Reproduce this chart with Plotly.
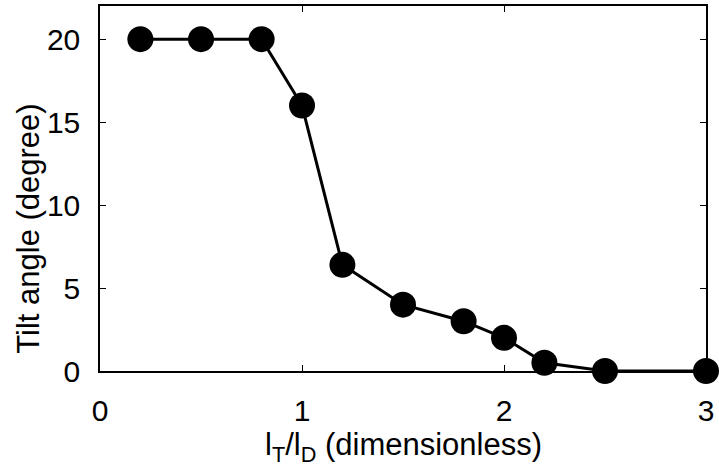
import plotly.graph_objects as go

ratio_x = [0.2, 0.5, 0.8, 1.0, 1.2, 1.5, 1.8, 2.0, 2.2, 2.5, 3.0]
tilt_angle = [20, 20, 20, 16, 6.4, 4, 3, 2, 0.5, 0, 0]

x_ticks = [0, 1, 2, 3]
y_ticks = [0, 5, 10, 15, 20]

x_title = "l<sub>T</sub>/l<sub>D</sub> (dimensionless)"
y_title = "Tilt angle (degree)"

font_family = "Liberation Sans, Arial, sans-serif"
tick_size = 30
title_size = 31

fig = go.Figure()
fig.add_trace(go.Scatter(
    x=ratio_x, y=tilt_angle, mode="lines+markers",
    line=dict(color="black", width=3),
    marker=dict(color="black", size=26),
    cliponaxis=False, showlegend=False,
))

axis_common = dict(
    showgrid=False, zeroline=False, showline=True, linecolor="black", linewidth=1.5,
    mirror="ticks", ticks="inside", ticklen=6, tickwidth=1, tickcolor="black",
    tickfont=dict(family=font_family, size=tick_size, color="black"),
)

fig.update_xaxes(
    range=[0, 3], tickvals=x_ticks, ticktext=[str(v) for v in x_ticks],
    ticklabelstandoff=12,
    **axis_common,
)
fig.update_yaxes(
    range=[0, 22], tickvals=y_ticks, ticktext=[str(v) for v in y_ticks],
    ticklabelstandoff=12,
    **axis_common,
)

fig.add_annotation(
    text=x_title, xref="paper", yref="paper", x=0.5, y=-0.208,
    xanchor="center", yanchor="middle", showarrow=False,
    font=dict(family=font_family, size=title_size, color="black"),
)
fig.add_annotation(
    text=y_title, xref="paper", yref="paper", x=-0.117, y=0.39,
    xanchor="center", yanchor="middle", textangle=-90, showarrow=False,
    font=dict(family=font_family, size=title_size, color="black"),
)

fig.update_layout(
    width=719, height=470,
    margin=dict(l=100, r=13, t=6, b=99, autoexpand=False),
    plot_bgcolor="white", paper_bgcolor="white",
)

fig.write_html("out.html", config={"displayModeBar": False},
               post_script="document.body.style.margin='0';")
